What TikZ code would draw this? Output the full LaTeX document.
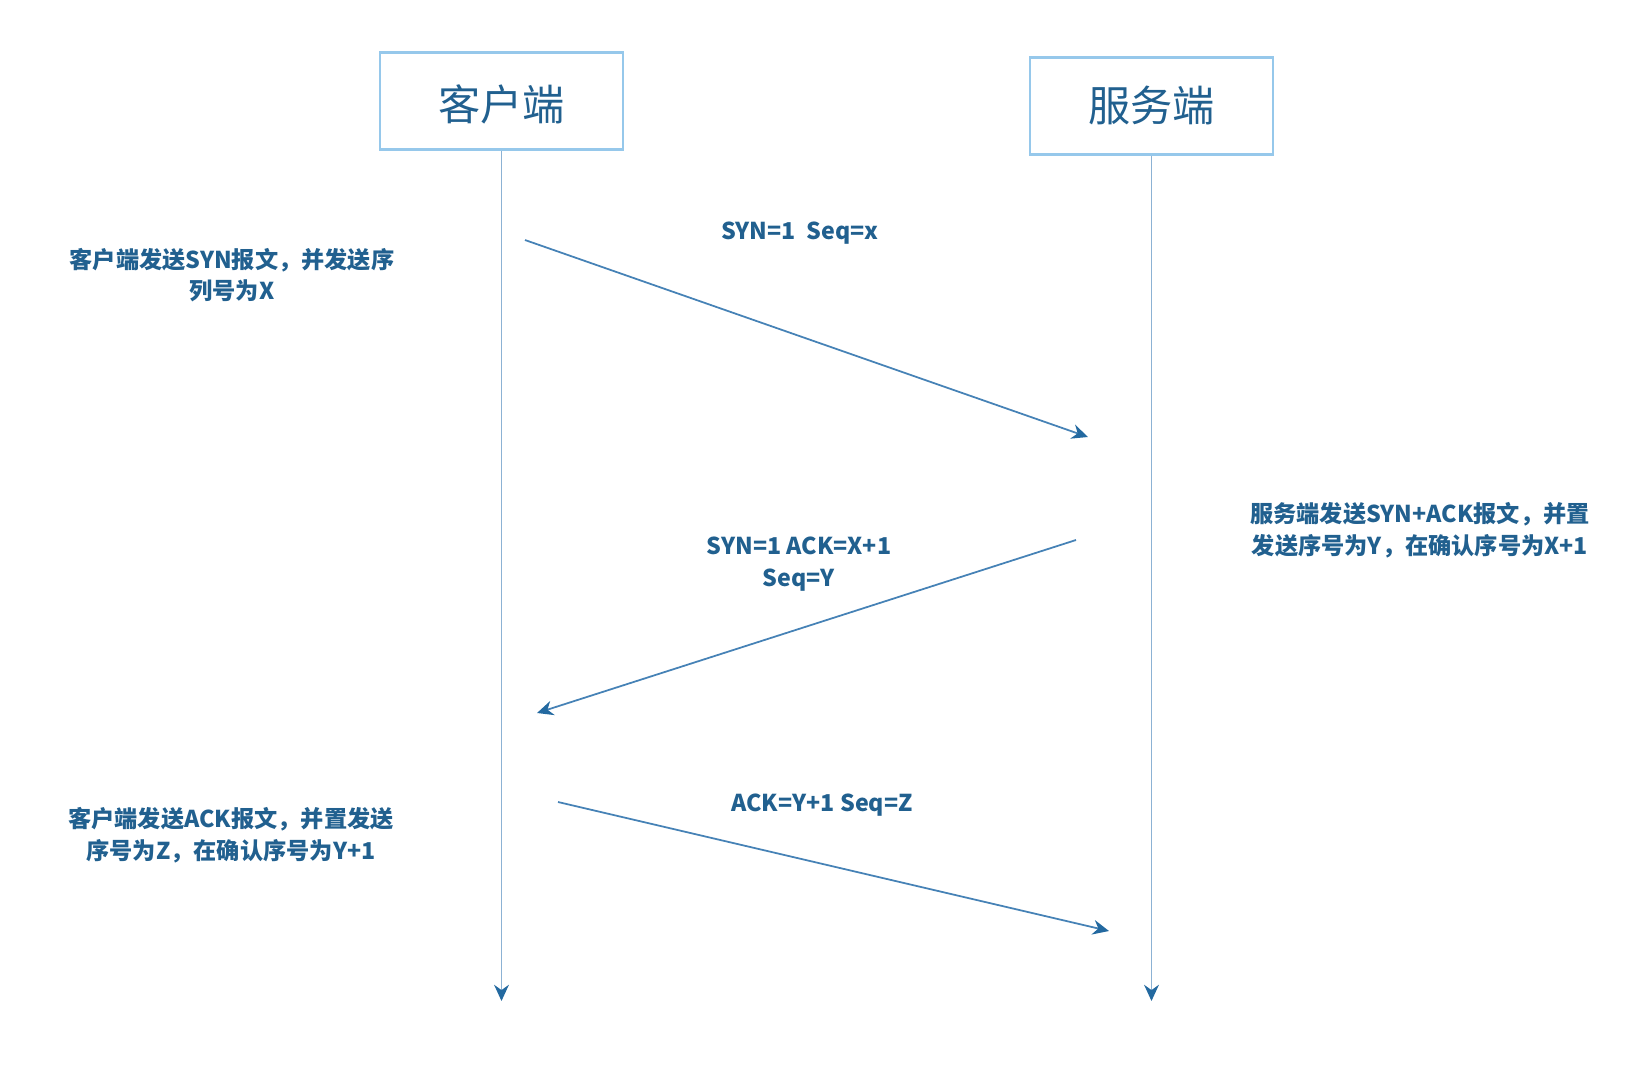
\documentclass[tikz,border=0pt]{standalone}
\usepackage{fontspec}
\setmainfont{Noto Sans CJK SC}
\usetikzlibrary{arrows.meta}
\definecolor{txt}{RGB}{33,96,143}
\definecolor{boxline}{RGB}{150,200,235}
\definecolor{lifeline}{RGB}{140,178,212}
\definecolor{msgline}{RGB}{70,130,182}
\definecolor{tipcol}{RGB}{35,105,160}
\tikzset{
  actor/.style={draw=boxline, line width=0.6pt, minimum width=2.43cm, minimum height=0.97cm, inner sep=0pt, text=txt, font=\fontsize{12}{13}\selectfont},
  life/.style={draw=lifeline, line width=0.55pt, -{Stealth[length=4.6pt,width=4.2pt,color=tipcol]}},
  msg/.style={draw=msgline, line width=0.5pt, -{Stealth[length=4.6pt,width=4.2pt,color=tipcol]}},
  lbl/.style={text=txt, align=center, inner sep=0pt, font=\bfseries\fontsize{6.6}{9}\selectfont},
}
\begin{document}
\begin{tikzpicture}[x=0.01cm,y=-0.01cm]
\useasboundingbox (0,0) rectangle (1638,1072);
\node[actor] (client) at (501.5,101) {\raisebox{-5.6pt}[4pt][4pt]{客户端}};
\node[actor] (server) at (1151.5,106) {\raisebox{-4.5pt}[4pt][4pt]{服务端}};
\coordinate (cend) at (501.5,1001);
\coordinate (send) at (1151.5,1001);
\draw[life] (client.south) -- (cend);
\draw[life] (server.south) -- (send);
% messages
\coordinate (m1a) at (525,240);
\coordinate (m1b) at (1088,437);
\coordinate (m2a) at (1076,540);
\coordinate (m2b) at (537,713);
\coordinate (m3a) at (558,802);
\coordinate (m3b) at (1109,931);
\draw[msg] (m1a) -- (m1b);
\draw[msg] (m2a) -- (m2b);
\draw[msg] (m3a) -- (m3b);
% labels
\node[lbl] (l1) at (800,233) {SYN=1\ \ Seq=x};
\node[lbl] (l2) at (799,564) {SYN=1 ACK=X+1\\Seq=Y};
\node[lbl] (l3) at (822,805) {ACK=Y+1 Seq=Z};
\node[lbl] (n1) at (232,275) {客户端发送SYN报文，并发送序\\列号为X};
\node[lbl] (n2) at (1420,530) {服务端发送SYN+ACK报文，并置\\发送序号为Y，在确认序号为X+1};
\node[lbl] (n3) at (231,835) {客户端发送ACK报文，并置发送\\序号为Z，在确认序号为Y+1};
\end{tikzpicture}
\end{document}
